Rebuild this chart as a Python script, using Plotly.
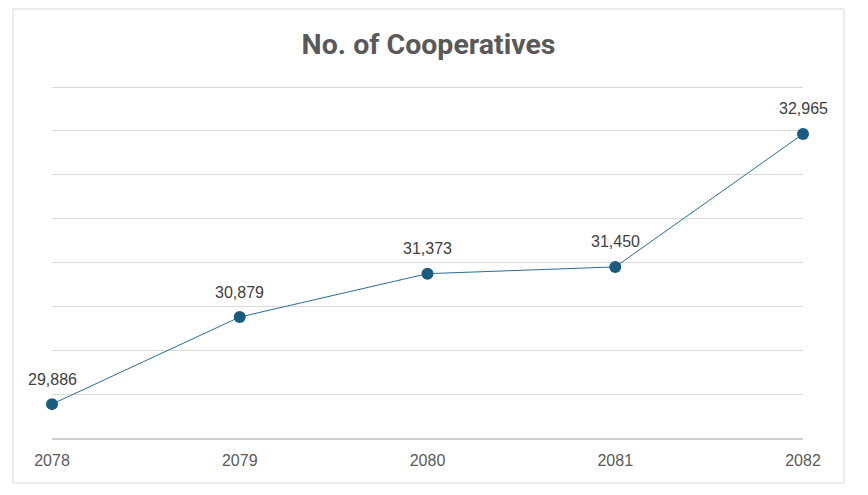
import plotly.graph_objects as go

years = ["2078", "2079", "2080", "2081", "2082"]
cooperatives = [29886, 30879, 31373, 31450, 32965]
labels = [f"{v:,}" for v in cooperatives]
title_text = "No. of Cooperatives"

fig = go.Figure()
fig.add_trace(go.Scatter(
    x=list(range(len(years))), y=cooperatives, mode="lines+markers",
    line=dict(color="#2a6d93", width=1),
    marker=dict(color="#195c80", size=12),
    cliponaxis=False, hoverinfo="skip", showlegend=False,
))

for i, (y, t) in enumerate(zip(cooperatives, labels)):
    fig.add_annotation(x=i, y=y, text=t, showarrow=False, yshift=25,
                       font=dict(family="Liberation Sans, Arial, sans-serif", size=16, color="#404040"))

fig.add_shape(type="rect", xref="paper", yref="paper",
              x0=-0.0519, x1=1.0546, y0=-0.1268, y1=1.2085,
              line=dict(color="#d9d9d9", width=1), fillcolor="rgba(0,0,0,0)", layer="below")

fig.update_layout(
    width=860, height=487,
    margin=dict(l=44, r=65, t=75, b=57),
    paper_bgcolor="white", plot_bgcolor="white",
    title=dict(text=f"<b>{title_text}</b>", x=0.489, xanchor="center",
               y=1 - 36 / 487, yanchor="middle", yref="container",
               font=dict(family="Roboto, sans-serif", size=28.5, color="#595959")),
    xaxis=dict(range=[0, 4], tickmode="array", tickvals=list(range(len(years))),
               ticktext=years, showgrid=False, zeroline=False,
               showline=True, linecolor="#d0d0d0", linewidth=1.5,
               ticks="", ticklabelstandoff=7,
               tickfont=dict(family="Liberation Sans, Arial, sans-serif", size=16, color="#595959")),
    yaxis=dict(range=[29500, 33546], dtick=500, tick0=29500, showgrid=True,
               gridcolor="#d9d9d9", gridwidth=1, zeroline=False,
               showticklabels=False, ticks=""),
)

fig.write_html("out.html")
